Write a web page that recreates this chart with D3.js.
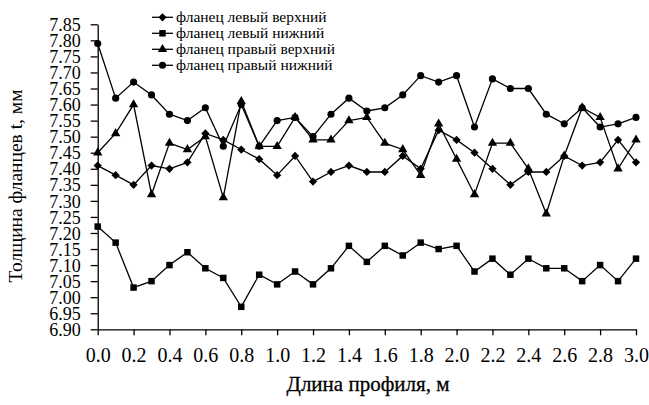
<!DOCTYPE html>
<html>
<head>
<meta charset="utf-8">
<script src="https://cdn.jsdelivr.net/npm/d3@7"></script>
<style>
  html, body { margin: 0; padding: 0; background: #fff; }
  svg { display: block; }
  .axis path, .axis line { stroke: #000; stroke-width: 1.3; }
  .axis text { font-family: "Liberation Serif", "Times New Roman", serif; fill: #000; }
  .axis.y text { font-size: 18px; }
  .axis.x text { font-size: 20px; }
</style>
</head>
<body>
<svg id="chart" width="649" height="405"></svg>
<script>
// Profile positions, m
const positions = d3.range(0, 31).map(i => +(i / 10).toFixed(1));

// Flange thickness along the profile, mm
const leftUpper = [7.41, 7.38, 7.35, 7.41, 7.40, 7.42, 7.51, 7.49, 7.46, 7.43, 7.38, 7.44, 7.36, 7.39, 7.41, 7.39,
                   7.39, 7.44, 7.40, 7.52, 7.49, 7.45, 7.40, 7.35, 7.39, 7.39, 7.44, 7.41, 7.42, 7.49, 7.42];
const leftLower = [7.22, 7.17, 7.03, 7.05, 7.10, 7.14, 7.09, 7.06, 6.97, 7.07, 7.04, 7.08, 7.04, 7.09, 7.16, 7.11,
                   7.16, 7.13, 7.17, 7.15, 7.16, 7.08, 7.12, 7.07, 7.12, 7.09, 7.09, 7.05, 7.10, 7.05, 7.12];
const rightUpper = [7.45, 7.51, 7.60, 7.32, 7.48, 7.46, 7.50, 7.31, 7.61, 7.47, 7.47, 7.56, 7.49, 7.49, 7.55, 7.56,
                    7.48, 7.46, 7.38, 7.54, 7.43, 7.32, 7.48, 7.48, 7.40, 7.26, 7.44, 7.59, 7.56, 7.40, 7.49];
const rightLower = [7.79, 7.62, 7.67, 7.63, 7.57, 7.55, 7.59, 7.47, 7.60, 7.47, 7.55, 7.56, 7.50, 7.57, 7.62, 7.58,
                    7.59, 7.63, 7.69, 7.67, 7.69, 7.53, 7.68, 7.65, 7.65, 7.57, 7.54, 7.59, 7.53, 7.54, 7.56];

const seriesNames = ["фланец левый верхний", "фланец левый нижний", "фланец правый верхний", "фланец правый нижний"];

// Axis ticks
const xTicks = d3.range(0, 16).map(i => +(i * 0.2).toFixed(1));
const yTicks = d3.range(0, 20).map(i => +(6.90 + i * 0.05).toFixed(2));

const xTitle = "Длина профиля, м";
const yTitle = "Толщина фланцев t, мм";

const series = [
  { name: seriesNames[0], values: leftUpper,  marker: "diamond" },
  { name: seriesNames[1], values: leftLower,  marker: "square" },
  { name: seriesNames[2], values: rightUpper, marker: "triangle" },
  { name: seriesNames[3], values: rightLower, marker: "circle" }
];

const svg = d3.select("#chart");

const x = d3.scaleLinear().domain([0, 3]).range([97.7, 636]);
const y = d3.scaleLinear().domain([6.90, 7.85]).range([329.3, 24.3]);

// Marker shapes
function markerPath(kind) {
  switch (kind) {
    case "diamond":  return d3.symbol().type(d3.symbolSquare).size(34)();
    case "square":   return d3.symbol().type(d3.symbolSquare).size(42)();
    case "triangle": return d3.symbol().type(d3.symbolTriangle).size(38)();
    default:         return d3.symbol().type(d3.symbolCircle).size(40)();
  }
}
function markerRotate(kind) { return kind === "diamond" ? 45 : 0; }

// Axes
const yAxis = d3.axisLeft(y).tickValues(yTicks).tickFormat(d3.format(".2f"))
  .tickSize(7).tickPadding(10).tickSizeOuter(0);
svg.append("g").attr("class", "axis y")
  .attr("transform", `translate(${x(0)},0)`)
  .call(yAxis)
  .call(g => g.selectAll("text").attr("dy", "0.34em"));

const xAxis = d3.axisBottom(x).tickValues(xTicks).tickFormat(d3.format(".1f"))
  .tickSize(6).tickPadding(13).tickSizeOuter(0);
svg.append("g").attr("class", "axis x")
  .attr("transform", `translate(0,${y(6.90)})`)
  .call(xAxis);

// Axis titles
svg.append("text")
  .attr("x", 368).attr("y", 391)
  .attr("text-anchor", "middle")
  .style("font-family", "'Liberation Serif', serif")
  .style("font-size", "21px")
  .style("stroke", "#000").style("stroke-width", 0.3)
  .text(xTitle);

svg.append("text")
  .attr("transform", `translate(22,${186}) rotate(-90)`)
  .attr("text-anchor", "middle")
  .style("font-family", "'Liberation Serif', serif")
  .style("font-size", "19.5px")
  .text(yTitle);

// Lines and markers
const line = d3.line().x((d, i) => x(positions[i])).y(d => y(d));

series.forEach(s => {
  svg.append("path")
    .datum(s.values)
    .attr("fill", "none")
    .attr("stroke", "#000")
    .attr("stroke-width", 1.3)
    .attr("d", line);

  svg.append("g").selectAll("path")
    .data(s.values)
    .join("path")
    .attr("d", markerPath(s.marker))
    .attr("transform", (d, i) => `translate(${x(positions[i])},${y(d)}) rotate(${markerRotate(s.marker)})`)
    .attr("fill", "#000");
});

// Legend
const legend = svg.append("g").attr("transform", "translate(152,17.3)");
series.forEach((s, i) => {
  const row = legend.append("g").attr("transform", `translate(0,${i * 16})`);
  row.append("line").attr("x1", 0).attr("x2", 21).attr("y1", 0).attr("y2", 0)
    .attr("stroke", "#000").attr("stroke-width", 1.3);
  row.append("path").attr("d", markerPath(s.marker))
    .attr("transform", `translate(10.5,0) rotate(${markerRotate(s.marker)})`)
    .attr("fill", "#000");
  row.append("text")
    .attr("x", 24).attr("y", 4.5)
    .style("font-family", "'Liberation Serif', serif")
    .style("font-size", "15.5px")
    .text(s.name);
});
</script>
</body>
</html>
